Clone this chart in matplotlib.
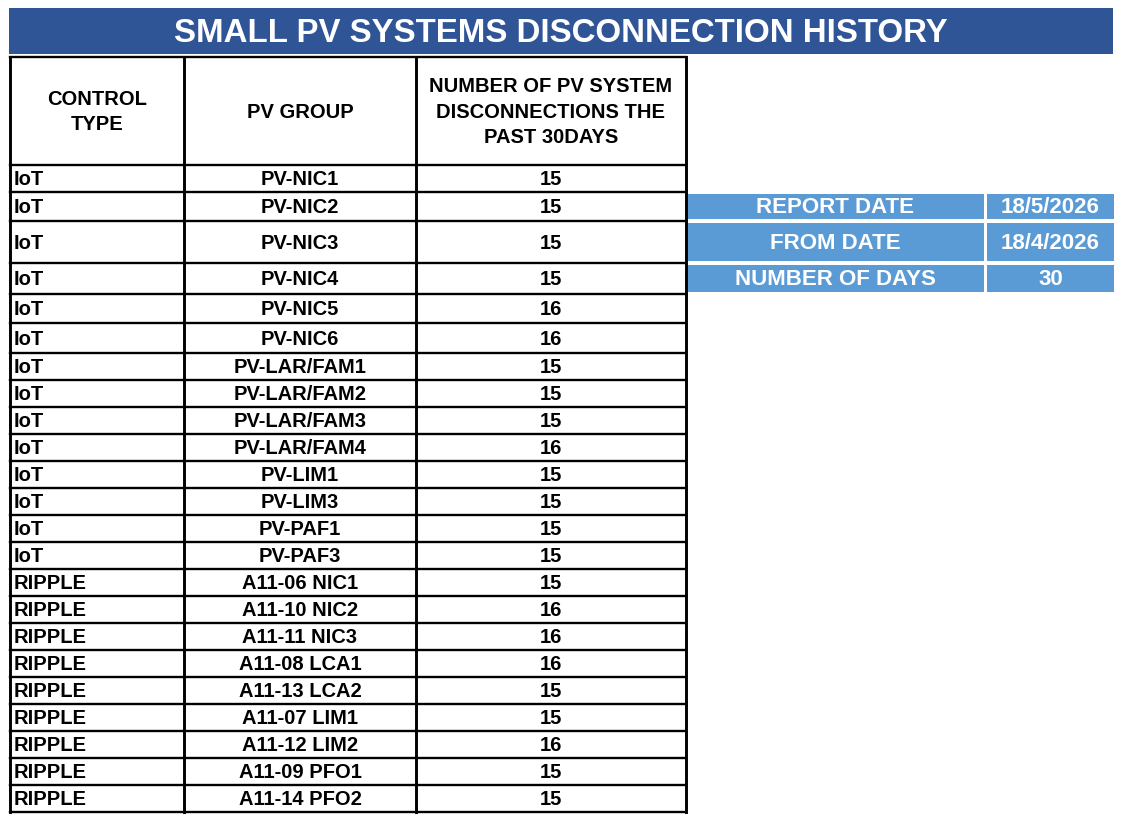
import matplotlib.pyplot as plt
from matplotlib.patches import Rectangle

# table data
control_type = ["IoT", "IoT", "IoT", "IoT", "IoT", "IoT", "IoT", "IoT", "IoT", "IoT",
                "IoT", "IoT", "IoT", "IoT", "RIPPLE", "RIPPLE", "RIPPLE", "RIPPLE",
                "RIPPLE", "RIPPLE", "RIPPLE", "RIPPLE", "RIPPLE"]
pv_group = ["PV-NIC1", "PV-NIC2", "PV-NIC3", "PV-NIC4", "PV-NIC5", "PV-NIC6",
            "PV-LAR/FAM1", "PV-LAR/FAM2", "PV-LAR/FAM3", "PV-LAR/FAM4",
            "PV-LIM1", "PV-LIM3", "PV-PAF1", "PV-PAF3",
            "A11-06 NIC1", "A11-10 NIC2", "A11-11 NIC3", "A11-08 LCA1", "A11-13 LCA2",
            "A11-07 LIM1", "A11-12 LIM2", "A11-09 PFO1", "A11-14 PFO2"]
disconnections = [15, 15, 15, 15, 16, 16, 15, 15, 15, 16, 15, 15, 15, 15,
                  15, 16, 16, 16, 15, 15, 16, 15, 15]

headers = ["CONTROL\nTYPE", "PV GROUP", "NUMBER OF PV SYSTEM\nDISCONNECTIONS THE\nPAST 30DAYS"]
title = "SMALL PV SYSTEMS DISCONNECTION HISTORY"

info_labels = ["REPORT DATE", "FROM DATE", "NUMBER OF DAYS"]
info_values = ["18/5/2026", "18/4/2026", "30"]

# layout (pixels)
W, H = 1121, 822
col_edges = [10, 184, 416, 686]
info_edges = [686, 985.5, 1114]
header_top, header_bot = 57, 165
row_h = [27, 29, 42, 31, 29, 30] + [27] * 17
dark_blue = "#2F5597"
light_blue = "#5B9BD5"
font = "Liberation Sans"

fig = plt.figure(figsize=(W / 100, H / 100), dpi=100)
ax = fig.add_axes([0, 0, 1, 1])
ax.set_xlim(0, W)
ax.set_ylim(H, 0)
ax.axis("off")

# title banner
ax.add_patch(Rectangle((9, 8), 1104, 46, facecolor=dark_blue, edgecolor="none"))
ax.text(W / 2, 33, title, color="white", fontsize=23.8, fontweight="bold",
        family=font, ha="center", va="center")

# row positions
row_top = [header_bot]
for h in row_h:
    row_top.append(row_top[-1] + h)

# header text
for j, txt in enumerate(headers):
    cx = (col_edges[j] + col_edges[j + 1]) / 2
    ax.text(cx, (header_top + header_bot) / 2 + 1, txt, fontsize=14.5, fontweight="bold",
            family=font, ha="center", va="center", linespacing=1.45)

# body
for i in range(len(pv_group)):
    cy = (row_top[i] + row_top[i + 1]) / 2 + 1
    ax.text(col_edges[0] + 4, cy, control_type[i], fontsize=14.5, fontweight="bold",
            family=font, ha="left", va="center")
    ax.text((col_edges[1] + col_edges[2]) / 2, cy, pv_group[i], fontsize=14.5,
            fontweight="bold", family=font, ha="center", va="center")
    ax.text((col_edges[2] + col_edges[3]) / 2, cy, str(disconnections[i]), fontsize=14.5,
            fontweight="bold", family=font, ha="center", va="center")

# info boxes next to rows 2-4
for k in range(len(info_labels)):
    r = k + 1
    y0, y1 = row_top[r] + 2, row_top[r + 1] - 2
    for c, txt in enumerate([info_labels[k], info_values[k]]):
        x0 = info_edges[c] + (0 if c == 0 else 1.5)
        x1 = info_edges[c + 1] - (1.5 if c == 0 else 0)
        ax.add_patch(Rectangle((x0, y0), x1 - x0, y1 - y0, facecolor=light_blue,
                               edgecolor="none"))
        ax.text((x0 + x1) / 2, (y0 + y1) / 2 + 1, txt, color="white", fontsize=16,
                fontweight="bold", family=font, ha="center", va="center")

# grid lines
bottom = row_top[-1]
for x in col_edges:
    ax.plot([x, x], [header_top, bottom], color="black", lw=2.1, solid_capstyle="projecting")
for y in [header_top, header_bot] + row_top[1:]:
    ax.plot([col_edges[0], col_edges[-1]], [y, y], color="black", lw=1.7,
            solid_capstyle="projecting")

fig.savefig("out.png", dpi=100, facecolor="white")
